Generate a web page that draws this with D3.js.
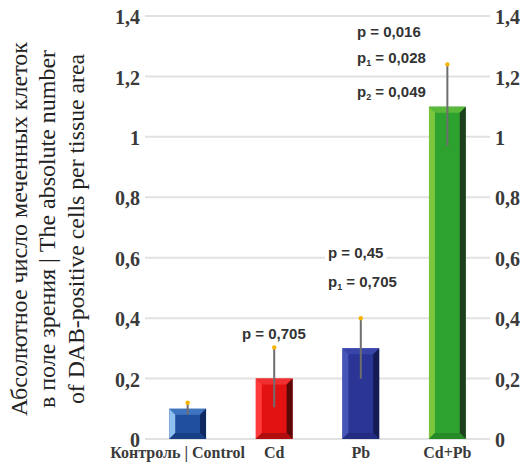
<!DOCTYPE html>
<html><head><meta charset="utf-8">
<script src="https://cdn.jsdelivr.net/npm/d3@7"></script>
<style>html,body{margin:0;padding:0;background:#fff;}svg{display:block;}</style>
</head><body>
<svg id="chart" width="525" height="472"></svg>
<script>
const categories = ["Контроль | Control", "Cd", "Pb", "Cd+Pb"];
const means = [0.1, 0.2, 0.3, 1.1];
const errLow = [0.08, 0.105, 0.2, 0.97];
const errHigh = [0.12, 0.303, 0.40, 1.24];
const yTicks = [0, 0.2, 0.4, 0.6, 0.8, 1, 1.2, 1.4];
const yTickLabels = ["0", "0,2", "0,4", "0,6", "0,8", "1", "1,2", "1,4"];
const annotations = [
  {cat: "Cd", lines: [["p", "", "0,705"]]},
  {cat: "Pb", lines: [["p", "", "0,45"], ["p", "1", "0,705"]]},
  {cat: "Cd+Pb", lines: [["p", "", "0,016"], ["p", "1", "0,028"], ["p", "2", "0,049"]]}
];
const titleLines = ["Абсолютное число меченных клеток", "в поле зрения | The absolute number", "of DAB-positive cells per tissue area"];
const barColors = [
  {face:"#1f4f9e", light:"#8fc0ee", top:"#3f74c0", dark:"#0f2a60", bottom:"#173f85"},
  {face:"#e21212", light:"#ff3a3a", top:"#f03030", dark:"#5a0808", bottom:"#b00e0e"},
  {face:"#2a3595", light:"#4555b8", top:"#3846aa", dark:"#151c55", bottom:"#222c80"},
  {face:"#2ea22e", light:"#7cc63e", top:"#5ab83a", dark:"#1d3f1d", bottom:"#268a26"}
];

const svg = d3.select("#chart");
const y = d3.scaleLinear().domain([0, 1.4]).range([439, 16]);
const x = d3.scaleBand().domain(categories).range([145, 490]).paddingInner(0.575).paddingOuter(0.28);

// gridlines
svg.append("g").selectAll("line").data(yTicks).join("line")
  .attr("x1", 145).attr("x2", 490)
  .attr("y1", d => y(d)).attr("y2", d => y(d))
  .attr("stroke", "#e2e2e2").attr("stroke-width", 2);

// left/right axis labels
function styleAxis(g) {
  g.select(".domain").remove();
  g.selectAll("text").attr("font-family", "'Liberation Serif', serif").attr("font-size", 20)
    .attr("font-weight", "bold").attr("fill", "#3a3a3a").attr("dy", "0.38em");
}
const fmt = (d, i) => yTickLabels[i];
svg.append("g").attr("transform", "translate(140,0)")
  .call(d3.axisLeft(y).tickValues(yTicks).tickSize(0).tickPadding(0).tickFormat(fmt)).call(styleAxis);
svg.append("g").attr("transform", "translate(495,0)")
  .call(d3.axisRight(y).tickValues(yTicks).tickSize(0).tickPadding(0).tickFormat(fmt)).call(styleAxis);

// bars with bevels
const bars = svg.append("g");
categories.forEach((c, i) => {
  const x0 = x(c), x1 = x(c) + x.bandwidth();
  const yT = y(means[i]), yB = y(0);
  const b = Math.min(6, (yB - yT) / 3);
  const col = barColors[i];
  const g = bars.append("g");
  g.append("rect").attr("x", x0).attr("y", yT).attr("width", x1 - x0).attr("height", yB - yT).attr("fill", col.face);
  g.append("polygon").attr("points", [[x0,yT],[x1,yT],[x1-b,yT+b],[x0+b,yT+b]].join(" ")).attr("fill", col.top);
  g.append("polygon").attr("points", [[x0,yT],[x0+b,yT+b],[x0+b,yB-b],[x0,yB]].join(" ")).attr("fill", col.light);
  g.append("polygon").attr("points", [[x1,yT],[x1-b,yT+b],[x1-b,yB-b],[x1,yB]].join(" ")).attr("fill", col.dark);
  g.append("polygon").attr("points", [[x0,yB],[x0+b,yB-b],[x1-b,yB-b],[x1,yB]].join(" ")).attr("fill", col.bottom);
});

// error bars
const eb = svg.append("g");
categories.forEach((c, i) => {
  const cx = x(c) + x.bandwidth() / 2;
  eb.append("line").attr("x1", cx).attr("x2", cx).attr("y1", y(errLow[i])).attr("y2", y(errHigh[i]))
    .attr("stroke", "#6e6e6e").attr("stroke-width", 2);
  eb.append("circle").attr("cx", cx).attr("cy", y(errHigh[i])).attr("r", 2.2).attr("fill", "#f5b400");
});

// x labels
const gx = svg.append("g").attr("transform", "translate(0,439)")
  .call(d3.axisBottom(x).tickSize(0).tickPadding(0));
gx.select(".domain").remove();
gx.selectAll("text").attr("font-family", "'Liberation Serif', serif").attr("font-size", 16)
  .attr("font-weight", "bold").attr("fill", "#3a3a3a").attr("dy", "1.2em")
  .attr("dx", (d, i) => i === 0 ? -10 : 0);

// annotations
const annX = {"Cd": 242, "Pb": 328, "Cd+Pb": 357};
const annBase = {"Cd": [339], "Pb": [258, 287], "Cd+Pb": [37, 63, 97]};
const ag = svg.append("g");
annotations.forEach(a => {
  a.lines.forEach((ln, j) => {
    const by = annBase[a.cat][j];
    const t = ag.append("text").attr("x", annX[a.cat]).attr("y", by)
      .attr("font-family", "'Liberation Sans', Arial, sans-serif").attr("font-size", 15)
      .attr("font-weight", "bold").attr("fill", "#333");
    t.append("tspan").text(ln[0]);
    if (ln[1]) t.append("tspan").attr("font-size", 9).attr("dy", 3).text(ln[1]);
    t.append("tspan").attr("dy", ln[1] ? -3 : 0).text(" = " + ln[2]);
    if (a.cat === "Pb") {
      const bb = t.node().getBBox();
      ag.insert("rect", "text").attr("x", bb.x - 3).attr("y", bb.y).attr("width", bb.width + 6).attr("height", bb.height).attr("fill", "#fff");
    }
  });
});

// y title
const titleX = [27, 55, 84];
const titleLen = [374, 358, 350];
svg.append("g").selectAll("text").data(titleLines).join("text")
  .attr("transform", (d, i) => `translate(${titleX[i]},229) rotate(-90)`)
  .attr("text-anchor", "middle")
  .attr("font-family", "'Liberation Serif', serif").attr("font-size", 23)
  .attr("textLength", (d, i) => titleLen[i]).attr("lengthAdjust", "spacingAndGlyphs")
  .attr("fill", "#222").text(d => d);
</script>
</body></html>
